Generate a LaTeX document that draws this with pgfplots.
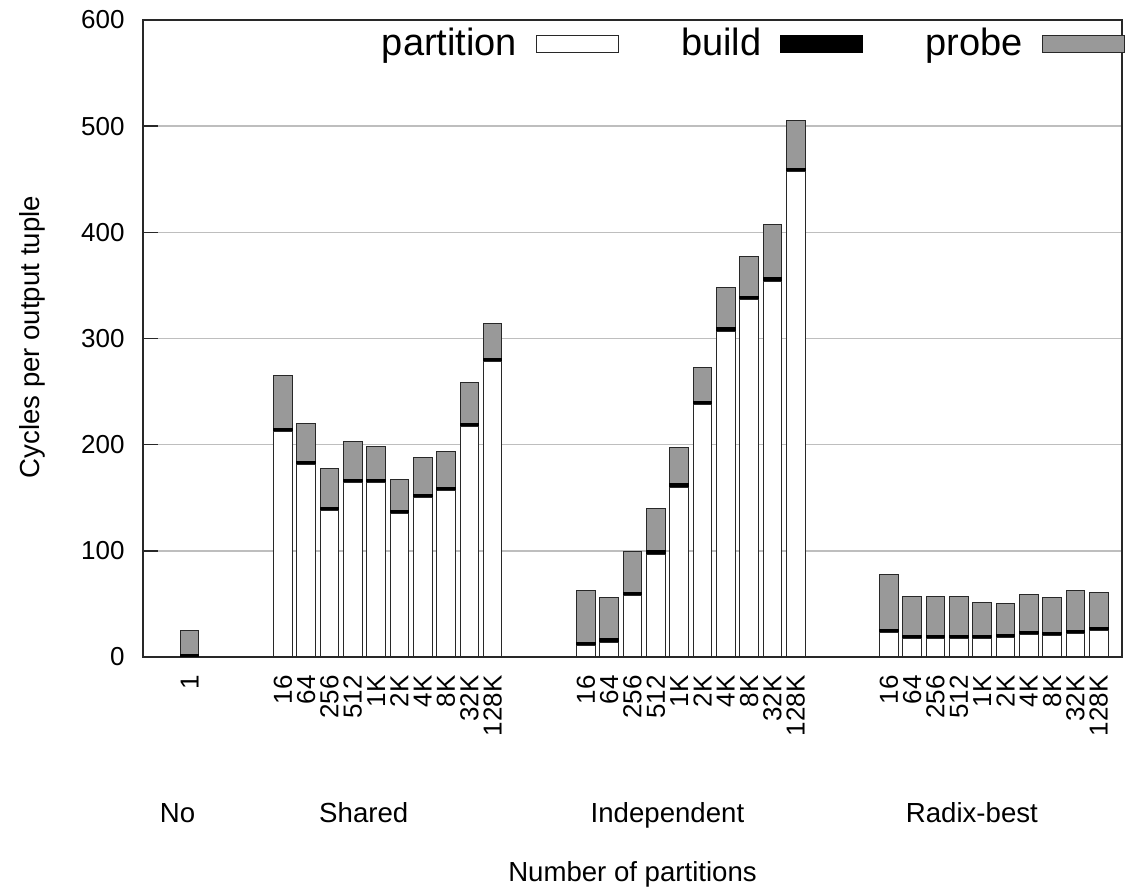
\documentclass[border=0pt]{standalone}
\usepackage{pgfplots}
\pgfplotsset{compat=1.18}
\usepackage{pgfplotstable}
\usepackage{fontspec}
\setmainfont{Liberation Sans}
\definecolor{probegray}{RGB}{153,153,153}
\definecolor{gridgray}{RGB}{190,190,190}
\definecolor{bordergray}{RGB}{40,40,40}
\newcommand{\tickfont}{\fontsize{13}{13}\selectfont}
\newcommand{\lblfont}{\fontsize{13.8}{14}\selectfont}

\pgfplotstableread{
pos partition build probe
0   0   2  23
4   212 3  50
5   181 3  36
6   138 3  37
7   164 3  36
8   164 3  31
9   135 3  29
10  150 3  35
11  157 3  34
12  217 3  39
13  278 3  33
17  11  3  49
18  14  3  39
19  58  3  38
20  97  3  40
21  160 3  34
22  238 3  32
23  307 3  38
24  337 3  37
25  354 3  50
26  457 3  45
30  23  3  52
31  17  3  37
32  17  3  37
33  17  3  37
34  17  3  31
35  18  3  29
36  21  3  35
37  20  3  33
38  22  3  38
39  25  3  33
}\datatable

\begin{document}
\begin{tikzpicture}
\begin{axis}[
  scale only axis, width=489.5pt, height=318.5pt,
  xmin=-2, xmax=40, ymin=0, ymax=600,
  ybar stacked, bar width=0.8,
  clip=false,
  ytick={0,100,200,300,400,500,600},
  ymajorgrids, grid style={gridgray, line width=0.75pt},
  axis line style={bordergray, line width=1pt},
  ytick pos=left, ytick style={bordergray, line width=0.75pt},
  tick align=inside, major tick length=7.5pt,
  xtick={0,4,5,6,7,8,9,10,11,12,13,17,18,19,20,21,22,23,24,25,26,30,31,32,33,34,35,36,37,38,39},
  xticklabels={1,16,64,256,512,1K,2K,4K,8K,32K,128K,16,64,256,512,1K,2K,4K,8K,32K,128K,16,64,256,512,1K,2K,4K,8K,32K,128K},
  xtick style={draw=none},
  xticklabel style={rotate=90, anchor=east, font=\tickfont, inner sep=0pt},
  xticklabel shift=9pt,
  yticklabel style={font=\tickfont, inner sep=0pt},
  yticklabel shift=9pt,
  /pgf/number format/assume math mode=true,
  every axis y label/.style={at={(rel axis cs:-0.1134,0.502)}, rotate=90, anchor=center, font=\lblfont},
  ylabel={Cycles per output tuple},
  every axis x label/.style={at={(rel axis cs:0.5,-0.342)}, anchor=center, font=\lblfont},
  xlabel={Number of partitions},
  legend columns=3, legend plot pos=right,
  legend image code/.code={\draw[#1] (0pt,-4.25pt) rectangle (41pt,4.25pt);},
  legend style={at={(rel axis cs:1,1)}, anchor=north east, xshift=1.5pt, yshift=-2pt,
    draw=none, fill=none, inner sep=0pt, font=\fontsize{19}{19}\selectfont,
    nodes={inner sep=2pt},
    /tikz/every odd column/.append style={column sep=7.5pt},
    /tikz/every even column/.append style={column sep=29pt}},
]
\addplot[fill=white, draw=bordergray, line width=0.5pt] table[x=pos, y=partition]{\datatable};
\addlegendentry{partition}
\addplot[fill=black, draw=black, line width=0.5pt] table[x=pos, y=build]{\datatable};
\addlegendentry{build}
\addplot[fill=probegray, draw=bordergray, line width=0.5pt] table[x=pos, y=probe]{\datatable};
\addlegendentry{probe}
\node[font=\lblfont, anchor=base] at (axis cs:-0.52,-156) {No};
\node[font=\lblfont, anchor=base] at (axis cs:7.47,-156) {Shared};
\node[font=\lblfont, anchor=base] at (axis cs:20.5,-156) {Independent};
\node[font=\lblfont, anchor=base] at (axis cs:33.56,-156) {Radix-best};
\coordinate (bbsw) at (rel axis cs:-0.14607,-0.36421);
\coordinate (bbne) at (rel axis cs:1.01532,1.03140);
\end{axis}
\pgfresetboundingbox
\path[use as bounding box] (bbsw) rectangle (bbne);
\end{tikzpicture}
\end{document}
